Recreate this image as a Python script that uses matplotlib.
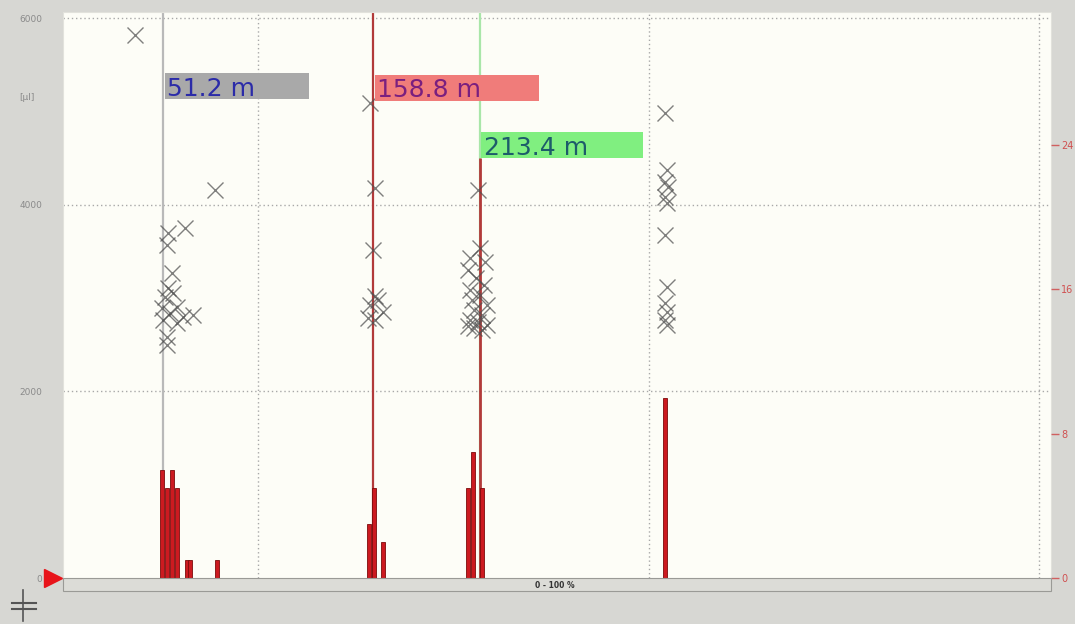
import matplotlib
matplotlib.use('Agg')
import matplotlib.pyplot as plt
from matplotlib.patches import Rectangle
from matplotlib.lines import Line2D

plt.rcParams['font.family'] = ['DejaVu Sans']

# ---------------- data ----------------
# histogram bars (position in m, count on right axis)
bar_pos = [50.6, 53.1, 56.0, 58.2, 63.4, 65.1, 78.7,
           156.8, 159.3, 163.9,
           207.5, 210.0, 214.7,
           308.4]
bar_cnt = [6, 5, 6, 5, 1, 1, 1,
           3, 5, 2,
           5, 7, 5,
           10]

# scatter crosses (position in m, value in left units)
pts_x = [37.0, 77.9, 53.9, 62.5, 53.1, 55.7, 53.9, 52.3, 56.5, 50.6, 58.2,
         54.8, 61.6, 66.8, 51.4, 58.2, 53.1, 53.1,
         157.3, 159.8, 158.8, 159.8, 161.4, 157.3, 163.9, 156.2, 159.8,
         212.4, 213.6, 208.5, 216.2, 207.5, 211.6, 215.7, 208.5, 213.6, 209.5,
         217.2, 210.5, 214.7, 208.5, 212.4, 217.2, 210.5, 214.7, 207.5,
         308.4, 309.3, 308.4, 310.1, 308.4, 309.3, 308.4, 309.3, 308.4, 309.3,
         308.4, 309.3]
pts_y = [5818, 4157, 3693, 3746, 3568, 3264, 3104, 3014, 3050, 2889, 2907,
         2836, 2800, 2818, 2764, 2729, 2585, 2496,
         5089, 4179, 3514, 3021, 2979, 2925, 2850, 2786, 2764,
         4157, 3536, 3428, 3386, 3300, 3214, 3139, 3086, 3032, 2979,
         2925, 2871, 2818, 2764, 2743, 2711, 2679, 2657, 2700,
         4979, 4371, 4246, 4193, 4085, 4014, 3675, 3121, 2943, 2853,
         2764, 2711]

# measurement cursors
cursor_pos = [51.2, 158.8, 213.4]
cursor_labels = ['51.2 m', '158.8 m', '213.4 m']
cursor_line_colors = ['#b9b9b9', '#b23a3a', '#a9e6a9']
cursor_box_colors = ['#a9a9a9', '#f07c7a', '#80ef80']
cursor_text_colors = ['#2b2ba8', '#7a1f7f', '#1d5c6a']
cursor_box_width = [74, 84.5, 83]        # label box width (m)
cursor_box_bottom = [0.846, 0.843, 0.742]  # axes fraction
cursor_box_height = 0.046
extra_line_pos = 213.4
extra_line_top = 4500

left_ticks = [0, 2000, 4000, 6000]
left_ticklabels = ['0', '2000', '4000', '6000']
left_unit = '[µl]'
left_unit_pos = 5143
right_ticks = [0, 8, 16, 24]
right_ticklabels = ['0', '8', '16', '24']
x_grid = [100, 300, 500]
x_range_label = '0 - 100 %'

# ---------------- figure ----------------
W, H = 1075, 624
fig = plt.figure(figsize=(W / 100, H / 100), dpi=100, facecolor='#d7d7d3')
ax = fig.add_axes([63 / W, 1 - 578 / H, (1051 - 63) / W, (578 - 12) / H])
ax.set_facecolor('#fdfdf7')
ax.set_xlim(0, (1051 - 63) / 1.952)
ax.set_ylim(0, 6000 * (578 - 12) / (578 - 18))

for g in x_grid:
    ax.axvline(g, color='#a8a8a8', lw=1.0, ls=(0, (1, 2)), zorder=1)
for t in left_ticks[1:]:
    ax.axhline(t, color='#a8a8a8', lw=1.0, ls=(0, (1, 2)), zorder=1)

ax.set_xticks([])
ax.set_yticks(left_ticks)
ax.set_yticklabels(left_ticklabels)
ax.tick_params(axis='y', length=0, pad=15, labelsize=6.5, labelcolor='#8a8a8a')
ax.text(-0.044, left_unit_pos, left_unit, transform=ax.get_yaxis_transform(),
        fontsize=6.5, color='#8a8a8a', ha='left', va='center')
for s in ['top', 'left', 'right']:
    ax.spines[s].set_color('#e2e2dc')
ax.spines['bottom'].set_visible(False)

# cursor lines
for xv, c in zip(cursor_pos, cursor_line_colors):
    ax.axvline(xv, color=c, lw=1.6, zorder=2)
ax.vlines(extra_line_pos, 0, extra_line_top, color='#b23a3a', lw=2.0, zorder=3)

# scatter
ax.plot(pts_x, pts_y, ls='none', marker='x', markersize=12, mew=1.0,
        color='#4f4f4f', alpha=0.72, zorder=4)

# labels
for xv, lab, bc, tc, bw, bb in zip(cursor_pos, cursor_labels, cursor_box_colors,
                                   cursor_text_colors, cursor_box_width, cursor_box_bottom):
    trans = ax.get_xaxis_transform()
    ax.add_patch(Rectangle((xv + 0.8, bb), bw, cursor_box_height, transform=trans,
                           facecolor=bc, edgecolor='none', zorder=5))
    ax.text(xv + 2.2, bb + cursor_box_height / 2, lab, transform=trans,
            fontsize=18, color=tc, ha='left', va='center_baseline', zorder=6)

# right axis with bars
ax2 = ax.twinx()
ax2.set_ylim(0, 24 * (578 - 12) / (578 - 145))
ax2.bar(bar_pos, bar_cnt, width=2.0, color='#cc1a20', edgecolor='#7d0b0b',
        linewidth=0.6, zorder=3)
ax2.set_yticks(right_ticks)
ax2.set_yticklabels(right_ticklabels)
ax2.tick_params(axis='y', length=6, width=1.0, color='#d06060', labelcolor='#d05050',
                labelsize=7, pad=1.5)
for s in ['top', 'left', 'right', 'bottom']:
    ax2.spines[s].set_visible(False)

# bottom range strip
fig.add_artist(Rectangle((63 / W, 1 - 591 / H), (1051 - 63) / W, 13 / H,
                         transform=fig.transFigure, facecolor='#dcdcd7',
                         edgecolor='#9a9a96', lw=0.8))
fig.text(555 / W, 1 - 585 / H, x_range_label, fontsize=5.5, color='#333333',
         ha='center', va='center', fontweight='bold')

# start marker triangle
fig.add_artist(Line2D([53 / W], [1 - 578 / H], marker='>', markersize=13,
                      color='#e8141a', transform=fig.transFigure, ls='none'))

# small icon bottom-left
fig.add_artist(Line2D([12 / W, 36 / W], [1 - 603 / H, 1 - 603 / H],
                      color='#555555', lw=1.5, transform=fig.transFigure))
fig.add_artist(Line2D([12 / W, 36 / W], [1 - 609 / H, 1 - 609 / H],
                      color='#555555', lw=1.5, transform=fig.transFigure))
fig.add_artist(Line2D([23 / W, 23 / W], [1 - 590 / H, 1 - 621 / H],
                      color='#555555', lw=1.2, transform=fig.transFigure))

fig.savefig('out.png', dpi=100, facecolor=fig.get_facecolor())
